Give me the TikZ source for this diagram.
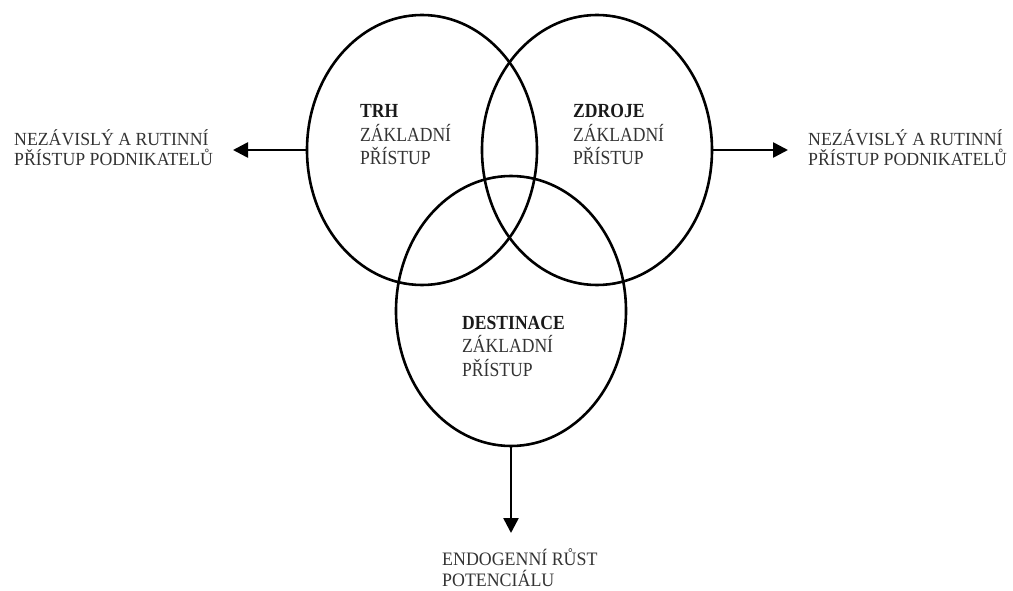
\documentclass[tikz,border=0pt]{standalone}
\usepackage{fontspec}
\setmainfont{Liberation Serif}
\newfontfamily\circfont[FakeStretch=0.88]{Liberation Serif}
\newfontfamily\botfont[FakeStretch=0.94]{Liberation Serif}
\newfontfamily\sidefont[FakeStretch=0.96]{Liberation Serif}
\usetikzlibrary{shapes.geometric,arrows.meta}
\definecolor{txt}{HTML}{333333}
\definecolor{hd}{HTML}{1A1A1A}
\begin{document}
\begin{tikzpicture}[x=1pt,y=-1pt,
  ring/.style={ellipse, draw=black, line width=2.6pt, minimum width=230pt, minimum height=270pt, inner sep=0pt},
  conn/.style={line width=2.6pt, -{Triangle[length=15pt,width=15pt]}},
  lbl/.style={align=left, inner sep=0pt, text=txt, anchor=north west, font=\circfont\fontsize{20}{23.5}\selectfont},
  side/.style={align=left, inner sep=0pt, text=txt, anchor=north west, font=\sidefont\fontsize{18.5}{20}\selectfont}]
\useasboundingbox (0,0) rectangle (1013,591);
\node[ring] (trh) at (422,150) {};
\node[ring] (zdr) at (597,150) {};
\node[ring] (dest) at (511,311) {};
\node[lbl] (trhl) at (360,104.5) {\textcolor{hd}{\textbf{TRH}}\\ZÁKLADNÍ\\PŘÍSTUP};
\node[lbl] (zdrl) at (573,104.5) {\textcolor{hd}{\textbf{ZDROJE}}\\ZÁKLADNÍ\\PŘÍSTUP};
\node[lbl] (destl) at (462,316) {\textcolor{hd}{\textbf{DESTINACE}}\\ZÁKLADNÍ\\PŘÍSTUP};
\node[side] (left) at (14,129.5) {NEZÁVISLÝ A RUTINNÍ\\PŘÍSTUP PODNIKATELŮ};
\node[side] (right) at (808,129.5) {NEZÁVISLÝ A RUTINNÍ\\PŘÍSTUP PODNIKATELŮ};
\node[side, font=\botfont\fontsize{19}{21.5}\selectfont] (bottom) at (442,548) {ENDOGENNÍ RŮST\\POTENCIÁLU};
\coordinate (ltip) at (233,150);
\coordinate (rtip) at (788,150);
\coordinate (btip) at (511,533);
\draw[conn] (trh.west) -- (ltip);
\draw[conn] (zdr.east) -- (rtip);
\draw[conn] (dest.south) -- (btip);
\end{tikzpicture}
\end{document}
